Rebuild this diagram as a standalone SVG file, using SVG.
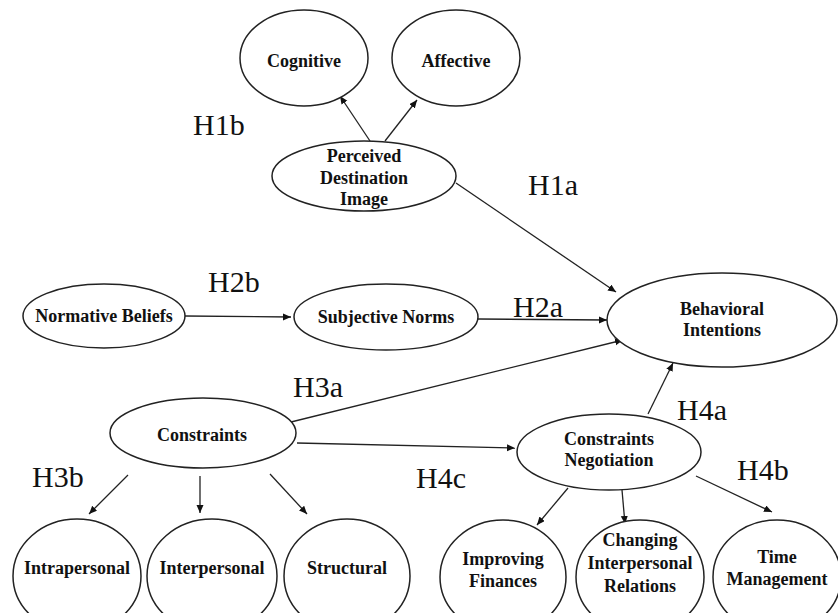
<svg xmlns="http://www.w3.org/2000/svg" width="838" height="613" viewBox="0 0 838 613">
<style>
.n{fill:#fff;stroke:#222;stroke-width:1.5}
.t{font-family:"Liberation Serif","Times New Roman",serif;font-weight:bold;font-size:18px;fill:#111;text-anchor:middle}
.h{font-family:"Liberation Serif","Times New Roman",serif;font-size:30px;fill:#111}
.c{stroke:#222;stroke-width:1.3;fill:none;marker-end:url(#ah)}
</style>
<defs>
<marker id="ah" markerWidth="9" markerHeight="8" refX="8" refY="3.5" orient="auto" markerUnits="userSpaceOnUse">
<path d="M0,0 L8,3.5 L0,7 z" fill="#111"/>
</marker>
</defs>
<rect width="838" height="613" fill="#fff"/>
<g id="connectors">
<line class="c" x1="370" y1="141" x2="340" y2="96"/>
<line class="c" x1="385" y1="141" x2="417" y2="100"/>
<line class="c" x1="456" y1="183" x2="616" y2="292"/>
<line class="c" x1="185" y1="316" x2="291" y2="317"/>
<line class="c" x1="478" y1="319" x2="607" y2="320"/>
<line class="c" x1="291" y1="422" x2="623" y2="340"/>
<line class="c" x1="297" y1="443" x2="515" y2="448"/>
<line class="c" x1="648" y1="414" x2="673" y2="363"/>
<line class="c" x1="128" y1="475" x2="89" y2="514"/>
<line class="c" x1="200" y1="476" x2="200" y2="513"/>
<line class="c" x1="270" y1="474" x2="307" y2="514"/>
<line class="c" x1="568" y1="488" x2="537" y2="525"/>
<line class="c" x1="622" y1="490" x2="625" y2="524"/>
<line class="c" x1="696" y1="476" x2="772" y2="512"/>
</g>
<g id="cognitive"><ellipse class="n" cx="304" cy="58" rx="64" ry="48"/><text class="t" x="304" y="67">Cognitive</text></g>
<g id="affective"><ellipse class="n" cx="456" cy="58" rx="64" ry="48"/><text class="t" x="456" y="67">Affective</text></g>
<g id="pdi"><ellipse class="n" cx="364" cy="176" rx="92" ry="35"/><text class="t" x="364" y="162">Perceived</text><text class="t" x="364" y="184">Destination</text><text class="t" x="364" y="205">Image</text></g>
<g id="normative"><ellipse class="n" cx="104" cy="316" rx="81" ry="32"/><text class="t" x="104" y="322">Normative Beliefs</text></g>
<g id="subjective"><ellipse class="n" cx="386" cy="317" rx="92" ry="33"/><text class="t" x="386" y="323">Subjective Norms</text></g>
<g id="behavioral"><ellipse class="n" cx="722" cy="320" rx="115" ry="47"/><text class="t" x="722" y="315">Behavioral</text><text class="t" x="722" y="336">Intentions</text></g>
<g id="constraints"><ellipse class="n" cx="203" cy="433" rx="93" ry="35"/><text class="t" x="202" y="441">Constraints</text></g>
<g id="negotiation"><ellipse class="n" cx="609" cy="452" rx="92" ry="38"/><text class="t" x="609" y="445">Constraints</text><text class="t" x="609" y="466">Negotiation</text></g>
<g id="intrapersonal"><ellipse class="n" cx="77" cy="576" rx="64" ry="57"/><text class="t" x="77" y="574">Intrapersonal</text></g>
<g id="interpersonal"><ellipse class="n" cx="212" cy="576" rx="65" ry="57"/><text class="t" x="212" y="574">Interpersonal</text></g>
<g id="structural"><ellipse class="n" cx="347" cy="576" rx="63" ry="57"/><text class="t" x="347" y="574">Structural</text></g>
<g id="finances"><ellipse class="n" cx="503" cy="577" rx="63" ry="57"/><text class="t" x="503" y="565">Improving</text><text class="t" x="503" y="587">Finances</text></g>
<g id="relations"><ellipse class="n" cx="640" cy="577" rx="64" ry="57"/><text class="t" x="640" y="546">Changing</text><text class="t" x="640" y="569">Interpersonal</text><text class="t" x="640" y="592">Relations</text></g>
<g id="time"><ellipse class="n" cx="777" cy="577" rx="64" ry="57"/><text class="t" x="777" y="563">Time</text><text class="t" x="777" y="585">Management</text></g>
<g id="labels">
<text class="h" x="193" y="135">H1b</text>
<text class="h" x="528" y="195">H1a</text>
<text class="h" x="208" y="292">H2b</text>
<text class="h" x="513" y="317">H2a</text>
<text class="h" x="293" y="397">H3a</text>
<text class="h" x="32" y="487">H3b</text>
<text class="h" x="677" y="420">H4a</text>
<text class="h" x="416" y="488">H4c</text>
<text class="h" x="737" y="480">H4b</text>
</g>
</svg>
